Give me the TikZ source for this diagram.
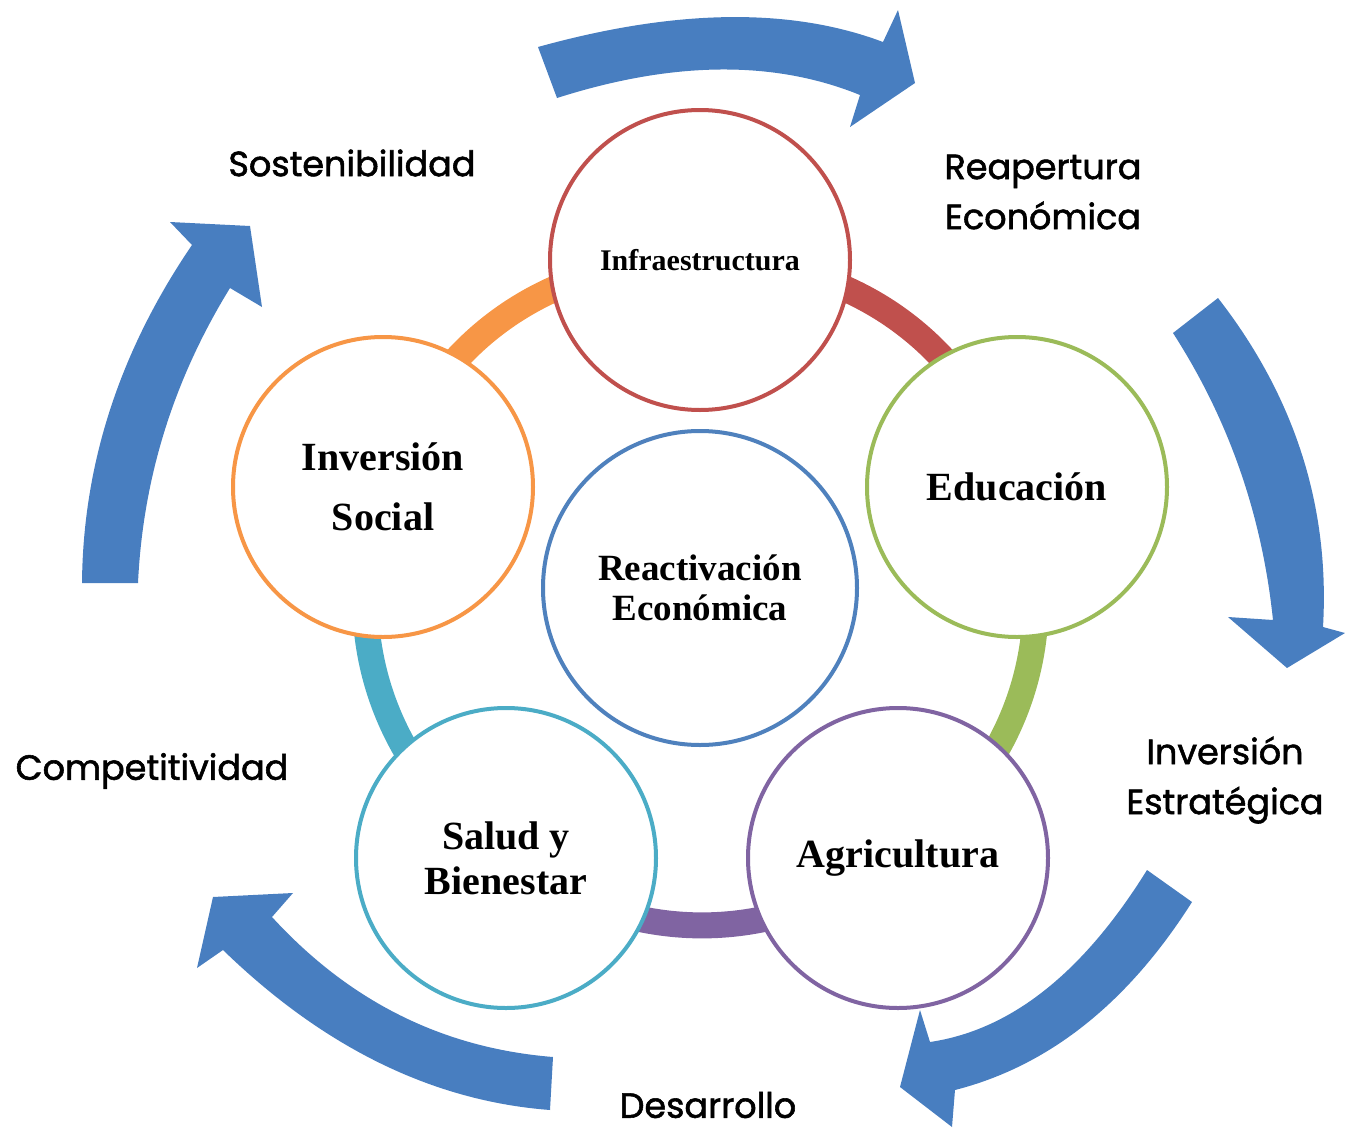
\documentclass[tikz,border=0pt]{standalone}
\usepackage{fontspec}
\setmainfont{Liberation Serif}
\newfontfamily\labfont[FakeBold=1.6]{Poppins}
\usetikzlibrary{backgrounds}
\definecolor{cred}{RGB}{192,80,77}
\definecolor{cgreen}{RGB}{155,187,89}
\definecolor{cpurple}{RGB}{128,100,162}
\definecolor{cteal}{RGB}{75,172,198}
\definecolor{corange}{RGB}{247,150,70}
\definecolor{cblue}{RGB}{79,129,189}
\definecolor{arrowblue}{RGB}{72,126,192}
\begin{document}
\begin{tikzpicture}[x=1pt,y=-1pt,
  ring/.style={circle, draw, line width=4pt, fill=white, minimum size=300pt, inner sep=0pt, align=center,
    font=\bfseries\fontsize{40}{60}\selectfont},
  band/.style={line width=26pt},
  blk/.style={fill=arrowblue},
  lbl/.style={font=\labfont\fontsize{35}{50}\selectfont, align=center, inner sep=0pt}]
\useasboundingbox (0,0) rectangle (1345,1130);

% circles
\node[ring, draw=cred, font=\bfseries\fontsize{30}{36}\selectfont] (infra) at (700,260) {Infraestructura};
\node[ring, draw=cgreen] (edu) at (1017,487) {Educación};
\node[ring, draw=cpurple] (agri) at (898,858) {Agricultura};
\node[ring, draw=cteal, font=\bfseries\fontsize{40}{45}\selectfont] (salud) at (506,858) {Salud y\\Bienestar};
\node[ring, draw=corange] (inv) at (383,487) {Inversión\\Social};
\node[ring, draw=cblue, minimum size=314pt, font=\bfseries\fontsize{37}{40}\selectfont] (core) at (700,588) {Reactivación\\Económica};

% bands
\begin{scope}[on background layer]
\draw[band, cred] (infra.center) to[bend left=36] (edu.center);
\draw[band, cgreen] (edu.center) to[bend left=36] (agri.center);
\draw[band, cpurple] (agri.center) to[bend left=36] (salud.center);
\draw[band, cteal] (salud.center) to[bend left=36] (inv.center);
\draw[band, corange] (inv.center) to[bend left=36] (infra.center);
\end{scope}

% big arrows
\fill[blk] (538,47) .. controls (675,9) and (790,7) .. (883,42)
  -- (898,10) -- (915,83) -- (850,127) -- (860,95)
  .. controls (774,60) and (673,61) .. (557,98) -- cycle;
\fill[blk] (1218,298) .. controls (1295,397) and (1330,507) .. (1323,627)
  -- (1345,633) -- (1287,668) -- (1228,617) -- (1273,620)
  .. controls (1262,515) and (1229,420) .. (1173,333) -- cycle;
\fill[blk] (1192,902) .. controls (1128,1003) and (1049,1066) .. (955,1090)
  -- (952,1127) -- (900,1087) -- (920,1010) -- (930,1042)
  .. controls (1011,1030) and (1083,973) .. (1147,870) -- cycle;
\fill[blk] (550,1110) .. controls (432,1101) and (323,1047) .. (223,950)
  -- (197,968) -- (213,897) -- (293,893) -- (272,917)
  .. controls (349,1001) and (442,1048) .. (553,1057) -- cycle;
\fill[blk] (82,583) .. controls (83,465) and (119,352) .. (192,245)
  -- (170,222) -- (250,226) -- (262,307) -- (230,288)
  .. controls (174,379) and (143,477) .. (138,583) -- cycle;

% outer labels
\node[lbl] (sost) at (352,163) {Sostenibilidad};
\node[lbl] (reap) at (1043,192) {Reapertura\\Económica};
\node[lbl] (inve) at (1225,780) {Inversión\\Estratégica};
\node[lbl] (desa) at (708,1105) {Desarrollo};
\node[lbl] (comp) at (152,771) {Competitividad};
\end{tikzpicture}
\end{document}
